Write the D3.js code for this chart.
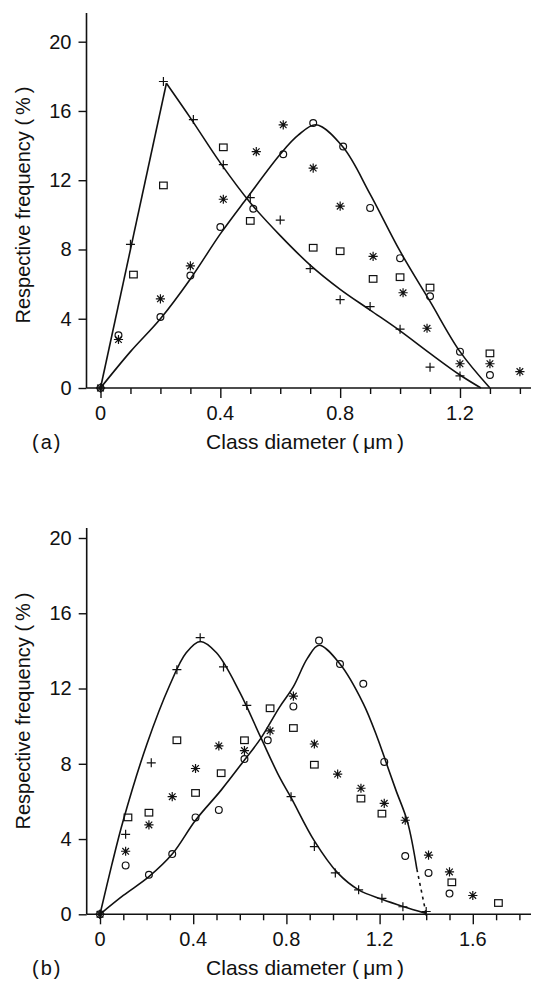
<!DOCTYPE html>
<html><head><meta charset="utf-8">
<script src="https://cdn.jsdelivr.net/npm/d3@7"></script>
<style>
body{margin:0;background:#fff;}
text{font-family:"Liberation Sans",Arial,Helvetica,sans-serif;fill:#111;}
</style></head>
<body><svg id="c" width="533" height="985"></svg>
<script>
// ---------- DATA ----------
const xTicksA = [0,0.1,0.2,0.3,0.4,0.5,0.6,0.7,0.8,0.9,1.0,1.1,1.2,1.3,1.4];
const xTicksB = [0,0.1,0.2,0.3,0.4,0.5,0.6,0.7,0.8,0.9,1.0,1.1,1.2,1.3,1.4,1.5,1.6,1.7,1.8];
const xLabels = [0,0.4,0.8,1.2,1.6];
const yLabels = [0,4,8,12,16,20];

// panel (a) measured points
const aPlus   = [[0,0],[0.10,8.3],[0.21,17.7],[0.31,15.5],[0.41,12.9],[0.50,11.0],[0.60,9.7],[0.70,6.9],[0.80,5.1],[0.90,4.7],[1.00,3.4],[1.10,1.2],[1.20,0.7]];
const aCircle = [[0,0],[0.06,3.05],[0.20,4.1],[0.30,6.5],[0.40,9.3],[0.51,10.35],[0.61,13.5],[0.71,15.3],[0.81,13.95],[0.90,10.4],[1.00,7.5],[1.10,5.3],[1.20,2.1],[1.30,0.75]];
const aStar   = [[0,0],[0.06,2.8],[0.20,5.15],[0.30,7.05],[0.41,10.9],[0.52,13.65],[0.61,15.2],[0.71,12.7],[0.80,10.5],[0.91,7.6],[1.01,5.5],[1.09,3.45],[1.20,1.4],[1.30,1.4],[1.40,0.95]];
const aSquare = [[0.11,6.55],[0.21,11.7],[0.41,13.9],[0.50,9.65],[0.71,8.1],[0.80,7.9],[0.91,6.3],[1.00,6.4],[1.10,5.8],[1.30,2.0]];
// panel (a) fitted curves
const aPlusRise  = [[0,0],[0.22,17.6]];
const aPlusFall  = [[0.22,17.6],[0.30,15.6],[0.40,13.0],[0.50,10.7],[0.60,8.8],[0.70,7.1],[0.80,5.7],[0.90,4.5],[1.00,3.3],[1.10,2.0],[1.20,0.75],[1.27,0]];
const aCircleFit = [[0,0],[0.10,2.1],[0.20,4.0],[0.30,6.3],[0.40,8.9],[0.49,11.0],[0.60,13.5],[0.66,14.6],[0.72,15.2],[0.81,13.9],[0.90,11.2],[1.00,7.9],[1.10,5.0],[1.20,2.1],[1.30,0]];

// panel (b) measured points
const bPlus   = [[0,0],[0.11,4.25],[0.22,8.05],[0.33,13.0],[0.43,14.7],[0.53,13.15],[0.63,11.1],[0.82,6.25],[0.92,3.6],[1.01,2.2],[1.11,1.3],[1.21,0.85],[1.30,0.4],[1.40,0.15]];
const bCircle = [[0,0],[0.11,2.6],[0.21,2.1],[0.31,3.2],[0.41,5.15],[0.51,5.55],[0.62,8.25],[0.72,9.25],[0.83,11.05],[0.94,14.55],[1.03,13.3],[1.13,12.25],[1.22,8.1],[1.31,3.1],[1.41,2.2],[1.50,1.1]];
const bStar   = [[0,0],[0.11,3.35],[0.21,4.75],[0.31,6.25],[0.41,7.75],[0.51,8.95],[0.62,8.7],[0.73,9.75],[0.83,11.6],[0.92,9.05],[1.02,7.45],[1.12,6.7],[1.22,5.9],[1.31,5.0],[1.41,3.15],[1.50,2.25],[1.60,1.0]];
const bSquare = [[0.12,5.15],[0.21,5.4],[0.33,9.25],[0.41,6.45],[0.52,7.5],[0.62,9.25],[0.73,10.95],[0.83,9.9],[0.92,7.95],[1.12,6.15],[1.21,5.35],[1.51,1.7],[1.71,0.6]];
// panel (b) fitted curves
const bPlusFit   = [[0,0],[0.05,2.6],[0.10,5.0],[0.20,9.0],[0.30,12.2],[0.37,13.9],[0.43,14.5],[0.50,13.9],[0.60,11.8],[0.69,9.4],[0.77,7.3],[0.82,6.2],[0.92,3.9],[1.02,2.2],[1.11,1.3],[1.21,0.8],[1.30,0.42],[1.40,0.05]];
const bCircleFit = [[0,0],[0.10,1.0],[0.21,2.0],[0.31,3.2],[0.41,5.0],[0.52,6.6],[0.62,8.2],[0.69,9.35],[0.77,11.0],[0.83,12.1],[0.89,13.6],[0.94,14.3],[1.03,13.3],[1.13,11.2],[1.19,9.4],[1.23,8.0],[1.27,6.6],[1.32,4.9],[1.36,2.4]];
const bCircleDash = [[1.36,2.4],[1.40,0]];

// ---------- DRAW ----------
const svg = d3.select("#c");
const FONT = 20;

function panel(cfg){
  const g = svg.append("g");
  const x = d3.scaleLinear().domain([0, cfg.xmax]).range([cfg.x0, cfg.x1]);
  const y = d3.scaleLinear().domain([0, 20]).range([cfg.y0, cfg.y1]);
  const axisX = cfg.axisX;
  // y axis
  g.append("line").attr("x1",axisX).attr("x2",axisX).attr("y1",cfg.y0).attr("y2",cfg.ytop)
    .attr("stroke","#111").attr("stroke-width",1.6);
  const yAx = d3.axisLeft(y).tickValues(yLabels).tickSize(8).tickPadding(7).tickFormat(d3.format("d"));
  const ya = g.append("g").attr("transform",`translate(${axisX},0)`).call(yAx);
  ya.select(".domain").remove();
  ya.selectAll("line").attr("stroke","#111").attr("stroke-width",1.4);
  ya.selectAll("text").style("font-size",FONT+"px").attr("fill","#111");
  // x axis
  g.append("line").attr("x1",axisX).attr("x2",cfg.xend).attr("y1",cfg.y0).attr("y2",cfg.y0)
    .attr("stroke","#111").attr("stroke-width",1.6);
  const xAx = d3.axisBottom(x).tickValues(cfg.xticks).tickSize(6).tickFormat("");
  const xa = g.append("g").attr("transform",`translate(0,${cfg.y0})`).call(xAx);
  xa.select(".domain").remove();
  xa.selectAll("line").attr("stroke","#111").attr("stroke-width",1.4);
  xa.selectAll(".tick").filter(d=>xLabels.some(v=>Math.abs(v-d)<1e-9)).select("line").attr("y2",10);
  const labs = xLabels.filter(v=>v<=cfg.xmax);
  g.selectAll(".xl").data(labs).enter().append("text")
    .attr("x",d=>x(d)).attr("y",cfg.y0+32).attr("text-anchor","middle")
    .style("font-size",FONT+"px").text(d=>d===0?"0":d.toFixed(1));
  // titles
  g.append("text").attr("x",305).attr("y",cfg.y0+61).attr("text-anchor","middle")
    .style("font-size","21px").text("Class diameter (\u2009\u03bcm\u2009)");
  g.append("text").attr("x",32).attr("y",cfg.y0+61).style("font-size",FONT+"px")
    .style("letter-spacing","2px").text(cfg.tag);
  g.append("text").attr("transform",`translate(30,${cfg.ylabY}) rotate(-90)`).attr("text-anchor","middle")
    .style("font-size",FONT+"px").text("Respective frequency (\u2009%\u2009)");

  const line = d3.line().x(d=>x(d[0])).y(d=>y(d[1]));
  const smooth = d3.line().x(d=>x(d[0])).y(d=>y(d[1])).curve(d3.curveCatmullRom.alpha(0.5));
  cfg.lines.forEach(L=>{
    g.append("path").attr("d",(L.smooth?smooth:line)(L.data)).attr("fill","none")
      .attr("stroke","#111").attr("stroke-width",1.6).attr("stroke-dasharray",L.dash||null);
  });
  // markers
  const mk = g.append("g").attr("stroke","#111").attr("fill","none").attr("stroke-width",1.2);
  cfg.plus.forEach(d=>{
    const cx=x(d[0]), cy=y(d[1]);
    mk.append("path").attr("d",`M${cx-4.5},${cy}H${cx+4.5}M${cx},${cy-4.5}V${cy+4.5}`);
  });
  cfg.circle.forEach(d=>{
    mk.append("circle").attr("cx",x(d[0])).attr("cy",y(d[1])).attr("r",3.4);
  });
  cfg.square.forEach(d=>{
    mk.append("rect").attr("x",x(d[0])-3.8).attr("y",y(d[1])-3.3).attr("width",7.6).attr("height",6.6);
  });
  cfg.star.forEach(d=>{
    const cx=x(d[0]), cy=y(d[1]), r=4.6, q=r*0.72;
    mk.append("path").attr("stroke-width",1.2)
      .attr("d",`M${cx-r},${cy}H${cx+r}M${cx},${cy-r}V${cy+r}M${cx-q},${cy-q}L${cx+q},${cy+q}M${cx-q},${cy+q}L${cx+q},${cy-q}`);
  });
}

panel({xmax:1.4, x0:100.5, x1:519.9, y0:388, y1:41.7, ytop:13, axisX:86.5, xend:531,
  xticks:xTicksA, tag:"(a)", ylabY:205,
  lines:[{data:aPlusRise},{data:aPlusFall,smooth:true},{data:aCircleFit,smooth:true}],
  plus:aPlus, circle:aCircle, star:aStar, square:aSquare});

panel({xmax:1.8, x0:100, x1:519.4, y0:914.3, y1:538, ytop:528, axisX:86.7, xend:531,
  xticks:xTicksB, tag:"(b)", ylabY:711,
  lines:[{data:bPlusFit,smooth:true},{data:bCircleFit,smooth:true},{data:bCircleDash,dash:"3,4"}],
  plus:bPlus, circle:bCircle, star:bStar, square:bSquare});
</script></body></html>
